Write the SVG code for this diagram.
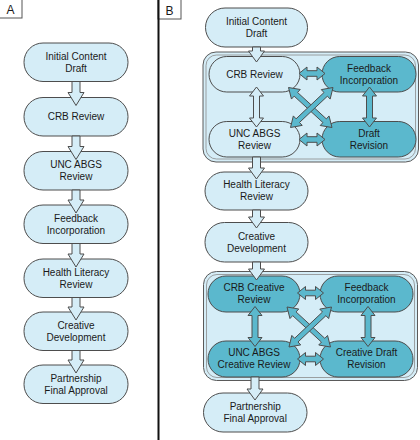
<svg xmlns="http://www.w3.org/2000/svg" width="420" height="440" viewBox="0 0 420 440">
<style>
text{font-family:"Liberation Sans",Arial,sans-serif;font-size:10px;fill:#1a1a1a;text-anchor:middle}
.lbl{font-size:12px}
.n{fill:#d5edf7;stroke:#4d4d4d;stroke-width:1}
.d{fill:#5bb8cd;stroke:#4d4d4d;stroke-width:1}
.c{fill:#d5edf7;stroke:#5a5a5a;stroke-width:1}
.ci{fill:none;stroke:#8a8a8a;stroke-width:0.8}
.al{fill:#d5edf7;stroke:#4d4d4d;stroke-width:1;stroke-linejoin:miter}
.ad{fill:#5bb8cd;stroke:#4d4d4d;stroke-width:1;stroke-linejoin:miter}
</style>
<rect width="420" height="440" fill="#ffffff"/>
<g id="labels">
<rect x="-1" y="-1" width="23" height="19" fill="#fff" stroke="#555"/>
<text class="lbl" x="10.5" y="14">A</text>
<rect x="158" y="-1" width="23" height="20" fill="#fff" stroke="#555"/>
<text class="lbl" x="169.5" y="14.5">B</text>
<line x1="158.5" y1="0" x2="158.5" y2="440" stroke="#111" stroke-width="2"/>
</g>
<!-- Panel A -->
<g id="a1"><rect class="n" x="24" y="43" width="104" height="38.5" rx="19"/><text x="76" y="59.5">Initial Content</text><text x="76" y="71.5">Draft</text></g>
<g id="a2"><rect class="n" x="24" y="97.5" width="104" height="38.5" rx="19"/><text x="76" y="120.3">CRB Review</text></g>
<g id="a3"><rect class="n" x="24" y="151.5" width="104" height="38.5" rx="19"/><text x="76" y="168">UNC ABGS</text><text x="76" y="180">Review</text></g>
<g id="a4"><rect class="n" x="24" y="205" width="104" height="38.5" rx="19"/><text x="76" y="221.5">Feedback</text><text x="76" y="233.5">Incorporation</text></g>
<g id="a5"><rect class="n" x="24" y="259" width="104" height="38.5" rx="19"/><text x="76" y="275.5">Health Literacy</text><text x="76" y="287.5">Review</text></g>
<g id="a6"><rect class="n" x="24" y="312" width="104" height="38.5" rx="19"/><text x="76" y="328.5">Creative</text><text x="76" y="340.5">Development</text></g>
<g id="a7"><rect class="n" x="24" y="365" width="104" height="38.5" rx="19"/><text x="76" y="381.5">Partnership</text><text x="76" y="393.5">Final Approval</text></g>
<!-- Panel B -->
<g id="b1"><rect class="n" x="205.5" y="8" width="102" height="39" rx="19.5"/><text x="256.5" y="24.5">Initial Content</text><text x="256.5" y="36.5">Draft</text></g>
<g id="group1">
<rect class="c" x="203" y="52" width="215.5" height="110" rx="13"/>
<rect class="ci" x="206" y="55" width="209.5" height="104" rx="10.5"/>
<g id="b2"><rect class="n" x="209" y="56.5" width="91" height="35.5" rx="17.75"/><text x="254.5" y="77.5">CRB Review</text></g>
<g id="b3"><rect class="d" x="322" y="56.5" width="94" height="35.5" rx="17.75"/><text x="369" y="71.5">Feedback</text><text x="369" y="83.5">Incorporation</text></g>
<g id="b4"><rect class="n" x="209" y="121.5" width="91" height="35.5" rx="17.75"/><text x="254.5" y="136.5">UNC ABGS</text><text x="254.5" y="148.5">Review</text></g>
<g id="b5"><rect class="d" x="322" y="121.5" width="94" height="35.5" rx="17.75"/><text x="369" y="136.5">Draft</text><text x="369" y="148.5">Revision</text></g>
</g>
<g id="b6"><rect class="n" x="205" y="172" width="103" height="38" rx="19"/><text x="256.5" y="188">Health Literacy</text><text x="256.5" y="200">Review</text></g>
<g id="b7"><rect class="n" x="205" y="222.5" width="103" height="39.5" rx="19.5"/><text x="256.5" y="239.5">Creative</text><text x="256.5" y="251.5">Development</text></g>
<g id="group2">
<rect class="c" x="203.5" y="271.5" width="214" height="109" rx="13"/>
<rect class="ci" x="206.5" y="274.5" width="208" height="103" rx="10.5"/>
<g id="b8"><rect class="d" x="208" y="276" width="92" height="36" rx="18"/><text x="254" y="291">CRB Creative</text><text x="254" y="303">Review</text></g>
<g id="b9"><rect class="d" x="320" y="276" width="93" height="36" rx="18"/><text x="366.5" y="291">Feedback</text><text x="366.5" y="303">Incorporation</text></g>
<g id="b10"><rect class="d" x="208" y="341" width="92" height="36" rx="18"/><text x="254" y="356">UNC ABGS</text><text x="254" y="368">Creative Review</text></g>
<g id="b11"><rect class="d" x="320" y="341" width="93" height="36" rx="18"/><text x="366.5" y="356">Creative Draft</text><text x="366.5" y="368">Revision</text></g>
</g>
<g id="b12"><rect class="n" x="203.5" y="393" width="103.5" height="39" rx="19.5"/><text x="255.2" y="409.5">Partnership</text><text x="255.2" y="421.5">Final Approval</text></g>
<g id="connectors">
<!-- Panel A down arrows -->
<path class="al" d="M72,81.5 H80 V92.5 H84 L76,105.5 L68,92.5 H72Z"/>
<path class="al" d="M72,136 H80 V146.5 H84 L76,159.5 L68,146.5 H72Z"/>
<path class="al" d="M72,190 H80 V200 H84 L76,213 L68,200 H72Z"/>
<path class="al" d="M72,243.5 H80 V254 H84 L76,267 L68,254 H72Z"/>
<path class="al" d="M72,297.5 H80 V307 H84 L76,320 L68,307 H72Z"/>
<path class="al" d="M72,350.5 H80 V360 H84 L76,373 L68,360 H72Z"/>
<!-- Panel B down arrows -->
<path class="al" d="M252.5,47 H260.5 V51 H264.5 L256.5,62 L248.5,51 H252.5Z"/>
<path class="al" d="M252.5,157 H260.5 V168 H264.5 L256.5,179 L248.5,168 H252.5Z"/>
<path class="al" d="M252.5,210 H260.5 V217 H264.5 L256.5,228 L248.5,217 H252.5Z"/>
<path class="al" d="M252.5,262 H260.5 V269 H264.5 L256.5,280 L248.5,269 H252.5Z"/>
<path class="al" d="M251,377 H259 V389 H263 L255,400 L247,389 H251Z"/>
<!-- Group 1 double arrows -->
<path class="ad" d="M299,73.5 L307,67 307,70.7 317,70.7 317,67 325,73.5 317,80 317,76.3 307,76.3 307,80Z"/>
<path class="ad" d="M299,139.5 L307,133 307,136.7 317,136.7 317,133 325,139.5 317,146 317,142.3 307,142.3 307,146Z"/>
<path class="al" d="M256.5,87 L263.5,96 259.5,96 259.5,118 263.5,118 256.5,127 249.5,118 253.5,118 253.5,96 249.5,96Z"/>
<path class="ad" d="M369.5,87 L376.5,96 372.5,96 372.5,118 376.5,118 369.5,127 362.5,118 366.5,118 366.5,96 362.5,96Z"/>
<path class="ad" d="M288.5,87.5 L291.46,99.05 294.17,96.11 322.95,122.57 320.24,125.51 332,127.5 329.04,115.95 326.33,118.89 297.55,92.43 300.26,89.49Z"/>
<path class="ad" d="M290.5,127.5 L302.23,125.38 299.49,122.47 327.43,96.17 330.17,99.08 333,87.5 321.27,89.62 324.01,92.53 296.07,118.83 293.33,115.92Z"/>
<!-- Group 2 double arrows -->
<g transform="translate(-1.5,219.5)">
<path class="ad" d="M299,73.5 L307,67 307,70.7 317,70.7 317,67 325,73.5 317,80 317,76.3 307,76.3 307,80Z"/>
<path class="ad" d="M299,139.5 L307,133 307,136.7 317,136.7 317,133 325,139.5 317,146 317,142.3 307,142.3 307,146Z"/>
<path class="ad" d="M256.5,87 L263.5,96 259.5,96 259.5,118 263.5,118 256.5,127 249.5,118 253.5,118 253.5,96 249.5,96Z"/>
<path class="ad" d="M369.5,87 L376.5,96 372.5,96 372.5,118 376.5,118 369.5,127 362.5,118 366.5,118 366.5,96 362.5,96Z"/>
<path class="ad" d="M288.5,87.5 L291.46,99.05 294.17,96.11 322.95,122.57 320.24,125.51 332,127.5 329.04,115.95 326.33,118.89 297.55,92.43 300.26,89.49Z"/>
<path class="ad" d="M290.5,127.5 L302.23,125.38 299.49,122.47 327.43,96.17 330.17,99.08 333,87.5 321.27,89.62 324.01,92.53 296.07,118.83 293.33,115.92Z"/>
</g>
</g>
</svg>
